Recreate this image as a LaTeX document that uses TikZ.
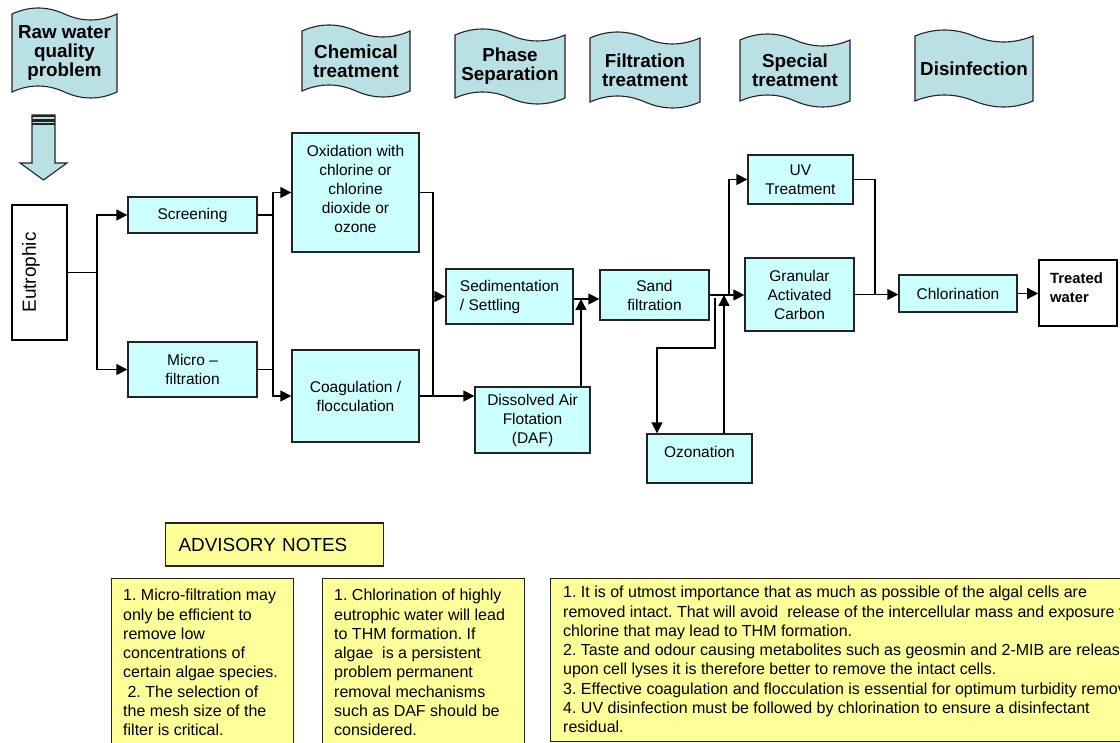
\documentclass[tikz,border=0pt]{standalone}
\usepackage{fontspec}
\setmainfont{Liberation Sans}
\usepackage{graphicx}
\usetikzlibrary{arrows.meta}
\frenchspacing

\definecolor{bannerfill}{RGB}{185,224,228}
\definecolor{boxfill}{RGB}{204,255,255}
\definecolor{notefill}{RGB}{255,255,153}
\definecolor{edge}{RGB}{35,35,35}

\tikzset{
  flowbox/.style={draw=edge, line width=1.3pt, fill=boxfill, inner sep=0pt,
    align=center, font=\fontsize{15.5}{19}\selectfont},
  plainbox/.style={draw=black, line width=1.6pt, fill=white, inner sep=0pt},
  notebox/.style={draw=edge, line width=1.1pt, fill=notefill, inner sep=0pt},
  notetext/.style={inner sep=0pt, anchor=north west, align=left,
    font=\fontsize{16}{19.3}\selectfont},
  link/.style={draw=black, line width=1.4pt},
  arr/.style={link, -{Triangle[length=11pt,width=11pt]}},
  bannerstyle/.style={draw=edge, line width=1.1pt, fill=bannerfill},
  bannertext/.style={align=center, inner sep=0pt,
    font=\bfseries\fontsize{18.8}{19}\selectfont},
}

% wavy stage banner: name, left x, right x, top y, bottom y, text
\newcommand{\wavebanner}[6]{%
  \pgfmathsetmacro{\bw}{#3-#2}%
  \filldraw[bannerstyle]
    (#2,#4) .. controls ({#2+\bw/6},{#4-8}) and ({#2+\bw/3},{#4-8}) .. ({#2+\bw/2},#4)
            .. controls ({#2+2*\bw/3},{#4+8}) and ({#2+5*\bw/6},{#4+8}) .. (#3,#4)
    -- (#3,#5)
            .. controls ({#2+5*\bw/6},{#5+8}) and ({#2+2*\bw/3},{#5+8}) .. ({#2+\bw/2},#5)
            .. controls ({#2+\bw/3},{#5-8}) and ({#2+\bw/6},{#5-8}) .. (#2,#5)
    -- cycle;
  \node[bannertext] (#1) at ({(#2+#3)/2},{(#4+#5)/2}) {#6};
}

\begin{document}
\begin{tikzpicture}[x=1pt,y=-1pt]
\useasboundingbox (0,0) rectangle (1120,743);
\clip (0,0) rectangle (1120,743);

% ---- stage banners
\wavebanner{raw}{12}{117}{14}{92}{Raw water\\quality\\problem}
\wavebanner{chem}{302}{410}{31}{91}{Chemical\\treatment}
\wavebanner{phase}{455}{565}{35}{98}{Phase\\Separation}
\wavebanner{filt}{590}{700}{38}{102}{Filtration\\treatment}
\wavebanner{spec}{740}{850}{40}{101}{Special\\treatment}
\wavebanner{disinf}{915}{1033}{36}{101}{Disinfection}

% ---- block arrow below the raw water banner
\filldraw[bannerstyle] (32,115) -- (55,115) -- (55,163) -- (67,163) -- (43.5,180)
  -- (20,163) -- (32,163) -- cycle;
\fill[edge] (32,115) rectangle (55,117.5);
\fill[edge] (32,119.5) rectangle (55,122);
\fill[edge] (32,123.5) rectangle (55,125.5);

% ---- process boxes
\node[plainbox, minimum width=55pt, minimum height=135pt] (eut) at (39.5,272.5) {};
\node[rotate=90, inner sep=0pt, font=\fontsize{19}{22}\selectfont] (eutlabel)
  at (31,272.5) {Eutrophic};

\node[flowbox, minimum width=129pt, minimum height=36pt] (scr) at (192.5,215) {Screening};
\node[flowbox, minimum width=129pt, minimum height=55pt] (mic) at (192.5,369.5) {Micro --\\filtration};
\node[flowbox, minimum width=127pt, minimum height=119pt] (ox) at (355.5,192.5) {};
\node[flowbox, fill=none, draw=none] (oxlabel) at (355.5,189)
  {Oxidation with\\chlorine or\\chlorine\\dioxide or\\ozone};
\node[flowbox, minimum width=127pt, minimum height=92pt] (coag) at (355.5,396) {Coagulation /\\flocculation};
\node[flowbox, minimum width=127pt, minimum height=55pt, align=left] (sed) at (509.5,296.5) {Sedimentation\\/ Settling};
\node[flowbox, minimum width=115pt, minimum height=66pt] (daf) at (532.5,420) {Dissolved Air\\Flotation\\(DAF)};
\node[flowbox, minimum width=109pt, minimum height=50pt] (sand) at (654.5,295) {Sand\\filtration};
\node[flowbox, minimum width=105pt, minimum height=49pt] (uv) at (800.5,179.5) {UV\\Treatment};
\node[flowbox, minimum width=109pt, minimum height=73pt] (gac) at (799.5,294.5) {Granular\\Activated\\Carbon};
\node[flowbox, minimum width=105pt, minimum height=49pt] (ozo) at (699.5,458.5) {};
\node[flowbox, fill=none, draw=none] (ozolabel) at (699.5,452) {Ozonation};
\node[flowbox, minimum width=118pt, minimum height=37pt] (chl) at (958,293.5) {Chlorination};
\node[plainbox, minimum width=78pt, minimum height=66pt] (tw) at (1078,293) {};
\node[inner sep=0pt, anchor=west, align=left, font=\bfseries\fontsize{14.8}{19}\selectfont]
  (twlabel) at (1050,287.5) {Treated\\water};

% ---- connectors
\coordinate (j1) at (97,273);
\draw[link] (eut.east) -- (eut.east -| j1);
\draw[arr] (eut.east -| j1) |- (scr.west);
\draw[arr] (eut.east -| j1) |- (mic.west);

\coordinate (j2) at (273,0);
\draw[link] (scr.east) -- (scr.east -| j2);
\draw[link] (mic.east) -- (mic.east -| j2);
\draw[link] (scr.east -| j2) -- (mic.east -| j2);
\draw[arr] (scr.east -| j2) |- (ox.west);
\draw[arr] (mic.east -| j2) |- (coag.west);

\coordinate (j3) at (433,0);
\draw[link] (ox.east) -| (coag.east -| j3);
\draw[arr] (coag.east) -- (coag.east -| daf.west);
\draw[arr] (sed.west -| j3) -- (sed.west);

\coordinate (j4) at (0,299);
\coordinate (dafup) at (581,0);
\draw[arr] (sed.east |- j4) -- (sand.west |- j4);
\draw[arr] (daf.north -| dafup) -- (j4 -| dafup);

\coordinate (j5) at (729,0);
\draw[arr] (sand.east) -- (sand.east -| gac.west);
\draw[arr] (sand.east -| j5) |- (uv.west);

\coordinate (oz1) at (715,298);
\coordinate (oz2) at (657,348);
\coordinate (oz3) at (724,0);
\draw[arr] (oz1) |- (oz2) -- (oz2 |- ozo.north);
\draw[arr] (ozo.north -| oz3) -- (sand.east -| oz3);

\coordinate (j7) at (875,0);
\draw[link] (uv.east) -| (gac.east -| j7);
\draw[arr] (gac.east) -- (gac.east -| chl.west);
\draw[arr] (chl.east) -- (chl.east -| tw.west);

% ---- advisory notes
\node[notebox, anchor=west, minimum width=218pt, minimum height=43pt, inner xsep=13pt,
  text width=192pt, align=left, font=\fontsize{18.9}{22}\selectfont] (adv)
  at (165,544.5) {ADVISORY NOTES};

\node[notebox, anchor=north west, minimum width=182pt, minimum height=200pt] (n1) at (111,578) {};
\node[notetext] (n1text) at (123,589) {1. Micro-filtration may\\only be efficient to\\remove low\\concentrations of\\certain algae species.\\\hspace*{4.4pt}2. The selection of\\the mesh size of the\\filter is critical.};

\node[notebox, anchor=north west, minimum width=202pt, minimum height=200pt] (n2) at (322,578) {};
\node[notetext] (n2text) at (334,589) {1. Chlorination of highly\\eutrophic water will lead\\to THM formation. If\\algae~ is a persistent\\problem permanent\\removal mechanisms\\such as DAF should be\\considered.};

\node[notebox, anchor=north west, minimum width=600pt, minimum height=163pt] (n3) at (550,578) {};
\node[notetext] (n3text) at (563,586) {1. It is of utmost importance that as much as possible of the algal cells are\\removed intact. That will avoid~ release of the intercellular mass and exposure to\\chlorine that may lead to THM formation.\\2. Taste and odour causing metabolites such as geosmin and 2-MIB are released\\upon cell lyses it is therefore better to remove the intact cells.\\3. Effective coagulation and flocculation is essential for optimum turbidity removal.\\4. UV disinfection must be followed by chlorination to ensure a disinfectant\\residual.};

\end{tikzpicture}
\end{document}
